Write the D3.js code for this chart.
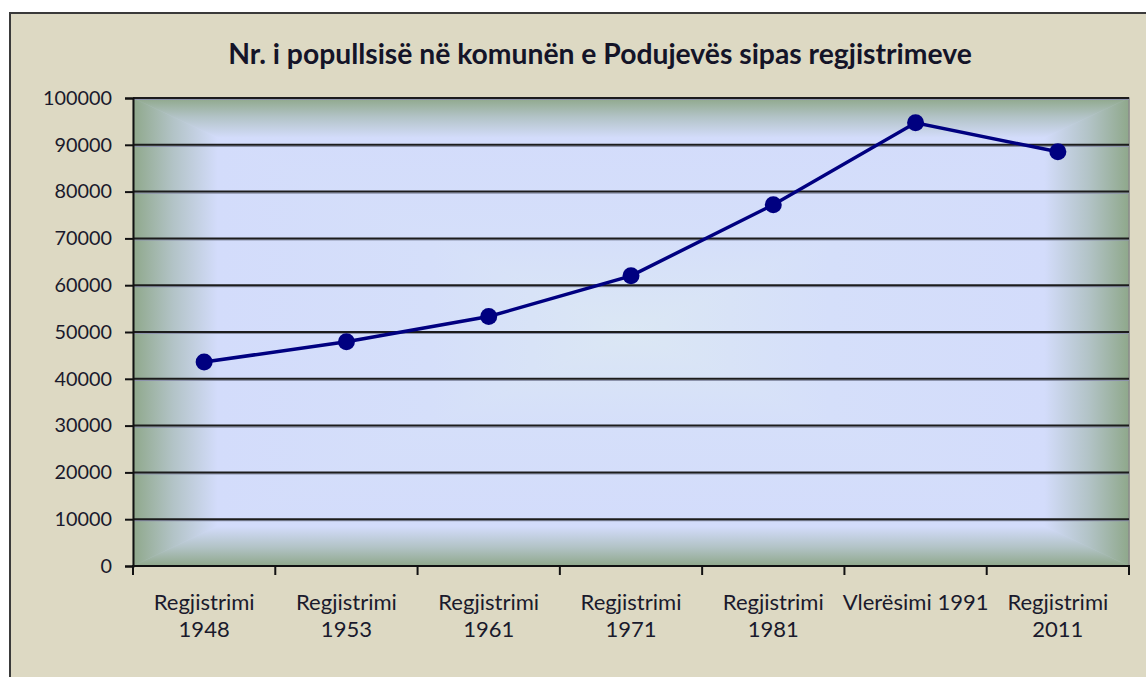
<!DOCTYPE html>
<html><head><meta charset="utf-8">
<script src="https://cdn.jsdelivr.net/npm/d3@7"></script>
<style>html,body{margin:0;padding:0;background:#fff;}svg{display:block;}</style>
</head><body>
<svg id="c" width="1146" height="677"></svg>
<script>
const title = "Nr. i popullsisë në komunën e Podujevës sipas regjistrimeve";
const categories = [["Regjistrimi","1948"],["Regjistrimi","1953"],["Regjistrimi","1961"],["Regjistrimi","1971"],["Regjistrimi","1981"],["Vlerësimi 1991"],["Regjistrimi","2011"]];
const population = [43600, 47900, 53300, 62000, 77200, 94700, 88500];
const yTicks = [0,10000,20000,30000,40000,50000,60000,70000,80000,90000,100000];

const svg = d3.select("#c");
const FONT = "Lato, 'Open Sans', sans-serif";
const x0 = 133, x1 = 1129, y0 = 98, y1 = 566;
const W = x1 - x0, H = y1 - y0;

// chart area
svg.append("rect").attr("x",10).attr("y",13).attr("width",1160).attr("height",700)
  .attr("fill","#ddd9c3").attr("stroke","#3a3a3a").attr("stroke-width",2);

function fitSize(text, weight, baseSize, target){
  const tmp = svg.append("text").attr("font-family",FONT).attr("font-weight",weight).attr("font-size",baseSize).text(text);
  const w = tmp.node().getComputedTextLength();
  tmp.remove();
  return baseSize*target/w;
}

// title
svg.append("text").attr("x",600).attr("y",64).attr("text-anchor","middle")
  .attr("font-family",FONT).attr("font-weight","bold").attr("font-size",fitSize(title,"bold",22,744))
  .attr("fill","#141428").text(title);

// plot area gradient (rectangular path gradient via 4 triangles)
const defs = svg.append("defs");
const stops = [[0,"#8fa88b"],[0.08,"#b2c3c6"],[0.17,"#d3dcfb"],[0.6,"#d5dffa"],[1,"#dbe7f4"]];
const cx = x0 + W/2, cy = y0 + H/2;
const sides = [
  {id:"gl", x1:x0, y1:cy, x2:cx, y2:cy, pts:[[x0,y0],[cx,cy],[x0,y1]]},
  {id:"gr", x1:x1, y1:cy, x2:cx, y2:cy, pts:[[x1,y0],[cx,cy],[x1,y1]]},
  {id:"gt", x1:cx, y1:y0, x2:cx, y2:cy, pts:[[x0,y0],[cx,cy],[x1,y0]]},
  {id:"gb", x1:cx, y1:y1, x2:cx, y2:cy, pts:[[x0,y1],[cx,cy],[x1,y1]]}
];
sides.forEach(s=>{
  const g = defs.append("linearGradient").attr("id",s.id).attr("gradientUnits","userSpaceOnUse")
    .attr("x1",s.x1).attr("y1",s.y1).attr("x2",s.x2).attr("y2",s.y2);
  stops.forEach(st=>g.append("stop").attr("offset",st[0]).attr("stop-color",st[1]));
});
svg.append("rect").attr("x",x0).attr("y",y0).attr("width",W).attr("height",H).attr("fill","#d4defa");
sides.forEach(s=>{
  svg.append("polygon").attr("points",s.pts.map(p=>p.join(",")).join(" "))
    .attr("fill",`url(#${s.id})`).attr("stroke",`url(#${s.id})`).attr("stroke-width",0.6);
});

// scales
const x = d3.scaleBand().domain(categories.map((d,i)=>i)).range([x0,x1]).padding(0);
const y = d3.scaleLinear().domain([0,100000]).range([y1,y0]);

// plot border top/right
svg.append("path").attr("d",`M${x0},${y0}H${x1}V${y1}`).attr("fill","none").attr("stroke","#8a8a8a").attr("stroke-width",1.5);

// gridlines
const grid = svg.append("g");
yTicks.filter(v=>v>0).forEach(v=>{
  grid.append("line").attr("x1",x0).attr("x2",x1).attr("y1",y(v)+1.5).attr("y2",y(v)+1.5)
    .attr("stroke","#8c93ab").attr("stroke-width",1.2);
  grid.append("line").attr("x1",x0).attr("x2",x1).attr("y1",y(v)).attr("y2",y(v))
    .attr("stroke","#1c1c1c").attr("stroke-width",2);
});

// y axis
const ySize = fitSize("100000","normal",18,69);
const yAxis = svg.append("g").attr("transform",`translate(${x0},0)`)
  .call(d3.axisLeft(y).tickValues(yTicks).tickSize(8).tickPadding(13).tickFormat(d3.format("d")));
yAxis.select(".domain").attr("stroke","#111").attr("stroke-width",2);
yAxis.selectAll(".tick line").attr("stroke","#111").attr("stroke-width",2);
yAxis.selectAll(".tick text").attr("font-family",FONT).attr("font-size",ySize).attr("fill","#1a1a2c");

// x axis
const boundaries = d3.range(categories.length+1).map(i=>x0 + i*x.step());
svg.append("line").attr("x1",x0-1).attr("x2",x1+1).attr("y1",y1).attr("y2",y1).attr("stroke","#111").attr("stroke-width",2);
svg.append("g").selectAll("line").data(boundaries).join("line")
  .attr("x1",d=>d).attr("x2",d=>d).attr("y1",y1).attr("y2",y1+9).attr("stroke","#111").attr("stroke-width",2);
const xSize = fitSize("Regjistrimi","normal",17,101);
const xl = svg.append("g");
categories.forEach((c,i)=>{
  const tx = xl.append("text").attr("x",x(i)+x.bandwidth()/2).attr("text-anchor","middle")
    .attr("font-family",FONT).attr("font-size",xSize).attr("fill","#1a1a2c");
  c.forEach((line,j)=>tx.append("tspan").attr("x",x(i)+x.bandwidth()/2).attr("y",610+j*27).text(line));
});

// line + markers
const pts = population.map((v,i)=>[x(i)+x.bandwidth()/2, y(v)]);
svg.append("path").attr("d",d3.line()(pts)).attr("fill","none").attr("stroke","#000080").attr("stroke-width",3.5);
svg.append("g").selectAll("circle").data(pts).join("circle")
  .attr("cx",d=>d[0]).attr("cy",d=>d[1]).attr("r",8.5).attr("fill","#000080");
</script>
</body></html>
